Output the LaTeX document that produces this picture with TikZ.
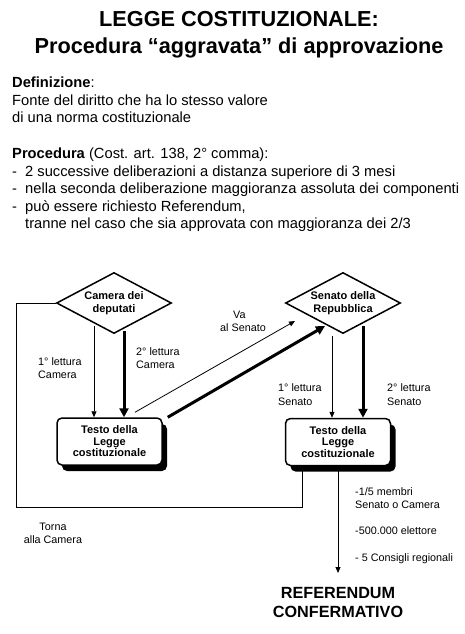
\documentclass[tikz,border=0pt]{standalone}
\usepackage{fontspec}
\setmainfont{Liberation Sans}
\usetikzlibrary{shapes.geometric,arrows.meta,shadows}
\begin{document}
\begin{tikzpicture}[x=1pt,y=-1pt,
  titletext/.style={font=\fontsize{21.7}{25}\selectfont\bfseries, inner sep=0pt, anchor=base},
  bodytext/.style={font=\fontsize{14.7}{17}\selectfont, inner sep=0pt, anchor=base west},
  smalltext/.style={font=\fontsize{10.8}{13}\selectfont, inner sep=0pt, anchor=base west},
  diabox/.style={draw, line width=1.5pt, shape=diamond, aspect=1.9, inner sep=0pt,
    minimum width=115pt, minimum height=61pt, fill=white, align=center,
    font=\fontsize{11}{12.5}\selectfont\bfseries},
  testobox/.style={draw, line width=1.5pt, rounded corners=5pt, fill=white,
    minimum width=105pt, minimum height=47pt, inner sep=0pt, align=center,
    font=\fontsize{11}{11.5}\selectfont\bfseries,
    general shadow={fill=black, shadow xshift=5pt, shadow yshift=-6pt}},
  smallarrow/.style={line width=0.8pt, -{Triangle[length=6pt,width=5pt]}},
  bigarrow/.style={line width=3pt, -{Triangle[length=9pt,width=9pt]}},
  plainline/.style={line width=0.8pt},
]
\fill[white] (0,0) rectangle (465,634);
\useasboundingbox (0,0) rectangle (465,634);

% header
\node[titletext] (t1) at (239,27) {LEGGE COSTITUZIONALE:};
\node[titletext] (t2) at (239,53) {Procedura “aggravata” di approvazione};
\node[bodytext] (def) at (12,88) {\textbf{Definizione}:};
\node[bodytext] (def1) at (12,105) {Fonte del diritto che ha lo stesso valore};
\node[bodytext] (def2) at (12,122) {di una norma costituzionale};
\node[bodytext] (proc) at (12,158) {\textbf{Procedura} (Cost. art. 138, 2° comma):};
\node[bodytext] (p1) at (12,176) {\makebox[13pt][l]{-}2 successive deliberazioni a distanza superiore di 3 mesi};
\node[bodytext] (p2) at (12,193) {\makebox[13pt][l]{-}nella seconda deliberazione maggioranza assoluta dei componenti};
\node[bodytext] (p3) at (12,211) {\makebox[13pt][l]{-}può essere richiesto Referendum,};
\node[bodytext] (p4) at (25,228) {tranne nel caso che sia approvata con maggioranza dei 2/3};

% return loop
\coordinate (lpL) at (16,507);
\coordinate (lpR) at (302,507);

% nodes
\node[diabox] (cam) at (114,303) {Camera dei\\deputati};
\node[diabox] (sen) at (343,303) {Senato della\\Repubblica};
\node[testobox] (b1) at (109.5,441.5) {Testo della\\Legge\\costituzionale};
\node[testobox] (b2) at (338,442) {Testo della\\Legge\\costituzionale};
\node[font=\fontsize{16.2}{19}\selectfont\bfseries, align=center, inner sep=0pt, anchor=north] (ref) at (338,587) {REFERENDUM\\CONFERMATIVO};

\draw[plainline] (cam.west) -- (cam.west -| lpL) -- (lpL) -- (lpR) -- (lpR |- b2.south);

% Camera -> box1
\coordinate (c1) at ([xshift=-20pt,yshift=-23pt]cam.center);
\coordinate (c2) at ([xshift=10pt,yshift=-28pt]cam.center);
\draw[smallarrow] (c1) -- (c1 |- b1.north);
\draw[bigarrow] (c2) -- (c2 |- b1.north);

% Senato -> box2
\coordinate (s1) at ([xshift=-11pt,yshift=-33pt]sen.center);
\coordinate (s2) at ([xshift=20pt,yshift=-23pt]sen.center);
\draw[smallarrow] (s1) -- (s1 |- b2.north);
\draw[bigarrow] (s2) -- (s2 |- b2.north);

% box1 -> Senato
\coordinate (v1) at ([xshift=25.5pt,yshift=5pt]b1.north);
\coordinate (v2) at ([xshift=-48pt,yshift=-18pt]sen.center);
\draw[smallarrow] (v1) -- (v2);
\coordinate (w1) at ([xshift=5pt]b1.north east);
\coordinate (w2) at ([xshift=-18pt,yshift=-23pt]sen.center);
\draw[bigarrow] (w1) -- (w2);

% box2 -> referendum
\draw[smallarrow] (b2.south) -- ([yshift=14pt]ref.north);

% labels
\node[smalltext] (l1a) at (38,365) {1° lettura};
\node[smalltext] (l1b) at (38,378.5) {Camera};
\node[smalltext] (l2a) at (136,355) {2° lettura};
\node[smalltext] (l2b) at (136,368.5) {Camera};
\node[smalltext] (va1) at (233,318) {Va};
\node[smalltext] (va2) at (220,331.5) {al Senato};
\node[smalltext] (l3a) at (278,391.5) {1° lettura};
\node[smalltext] (l3b) at (278,405) {Senato};
\node[smalltext] (l4a) at (387,391.5) {2° lettura};
\node[smalltext] (l4b) at (387,405) {Senato};
\node[smalltext] (r1) at (355,495) {-1/5 membri};
\node[smalltext] (r2) at (355,508.5) {Senato o Camera};
\node[smalltext] (r3) at (355,534) {-500.000 elettore};
\node[smalltext] (r4) at (355,561.5) {- 5 Consigli regionali};
\node[smalltext, anchor=base] (tc1) at (53,530) {Torna};
\node[smalltext, anchor=base] (tc2) at (53,543) {alla Camera};
\end{tikzpicture}
\end{document}
